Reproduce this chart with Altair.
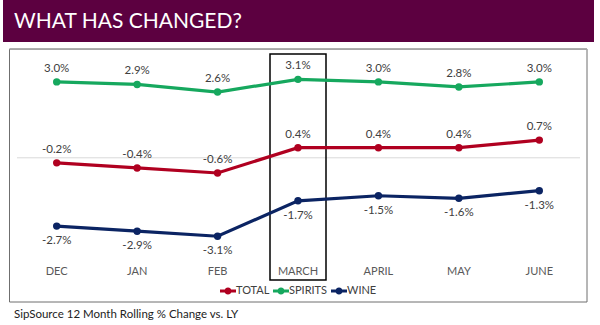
import altair as alt
import pandas as pd

months = ["DEC", "JAN", "FEB", "MARCH", "APRIL", "MAY", "JUNE"]
series = ["TOTAL", "SPIRITS", "WINE"]
colors = ["#B00020", "#16A85E", "#0B2463"]
total = [-0.2, -0.4, -0.6, 0.4, 0.4, 0.4, 0.7]
spirits = [3.0, 2.9, 2.6, 3.1, 3.0, 2.8, 3.0]
wine = [-2.7, -2.9, -3.1, -1.7, -1.5, -1.6, -1.3]

title_text = "WHAT HAS CHANGED?"
footer_text = "SipSource 12 Month Rolling % Change vs. LY"

rows = []
for name, vals in zip(series, [total, spirits, wine]):
    for m, v in zip(months, vals):
        rows.append({"month": m, "series": name, "value": v, "label": f"{v:.1f}%"})
df = pd.DataFrame(rows)
mdf = pd.DataFrame({"month": months})
one = pd.DataFrame({"a": [0]})
zdf = pd.DataFrame({"value": [0.0]})

FONT = "Lato"
xs = alt.X("month:N", sort=months, axis=None,
           scale=alt.Scale(type="point", domain=months, range=[56.7, 539.3], padding=0))
ys = alt.Y("value:Q", axis=None,
           scale=alt.Scale(domain=[-4, 4], range=[259, 56.6]))
color = alt.Color("series:N", sort=series,
                  scale=alt.Scale(domain=series, range=colors),
                  legend=alt.Legend(
                      title=None, orient="none", legendX=220, legendY=283,
                      direction="horizontal",
                      symbolType="M-1,-0.18L1,-0.18L1,0.18L-1,0.18Z M0.45,0 A0.45,0.45 0 1,1 -0.45,0 A0.45,0.45 0 1,1 0.45,0Z",
                      symbolSize=256, symbolStrokeWidth=0, symbolOpacity=1,
                      labelFont=FONT, labelFontSize=11, labelColor="#404040",
                      labelOffset=0, columnPadding=3,
                  ))

header = alt.Chart(one).mark_rect(color="#5C0040").encode(
    x=alt.value(3), x2=alt.value(594), y=alt.value(0), y2=alt.value(42))
header_txt = alt.Chart(one).mark_text(
    align="left", baseline="middle", font=FONT, fontSize=21, color="white"
).encode(x=alt.value(14), y=alt.value(22), text=alt.value(title_text))

box = alt.Chart(one).mark_rect(fill="white", stroke="#6f6f6f", strokeWidth=1).encode(
    x=alt.value(9.5), x2=alt.value(587), y=alt.value(49), y2=alt.value(302))
top_line = alt.Chart(one).mark_rect(color="#a6a6a6").encode(
    x=alt.value(9.5), x2=alt.value(587), y=alt.value(48.5), y2=alt.value(50))

zero = alt.Chart(zdf).mark_rule(color="#d9d9d9", strokeWidth=1).encode(
    x=alt.value(17), x2=alt.value(580), y=ys)

hl = alt.Chart(one).mark_rect(fillOpacity=0, stroke="black", strokeWidth=1.5).encode(
    x=alt.value(270), x2=alt.value(326), y=alt.value(54), y2=alt.value(280))

lines = alt.Chart(df).mark_line(strokeWidth=3.2).encode(
    x=xs, y=ys, color=color)
points = alt.Chart(df).mark_point(filled=True, size=55, opacity=1).encode(
    x=xs, y=ys, color=color)

lab_above = alt.Chart(df).transform_filter(alt.datum.series != "WINE").mark_text(
    baseline="middle", dy=-13, font=FONT, fontSize=11.5, color="#404040"
).encode(x=xs, y=ys, text="label:N")
lab_below = alt.Chart(df).transform_filter(alt.datum.series == "WINE").mark_text(
    baseline="middle", dy=15, font=FONT, fontSize=11.5, color="#404040"
).encode(x=xs, y=ys, text="label:N")

month_lab = alt.Chart(mdf).mark_text(
    baseline="middle", font=FONT, fontSize=11, color="#595959"
).encode(x=xs, y=alt.value(272), text="month:N")

footer = alt.Chart(one).mark_text(
    align="left", baseline="middle", font=FONT, fontSize=11.5, color="#222222"
).encode(x=alt.value(14), y=alt.value(315), text=alt.value(footer_text))

chart = alt.layer(
    header, header_txt, box, top_line, zero, hl, lines, points,
    lab_above, lab_below, month_lab, footer
).properties(
    width=600, height=325, padding=0,
    autosize=alt.AutoSizeParams(type="none"),
    background="white"
).configure_view(stroke=None)

chart.save("out.html", embed_options={"renderer": "svg", "actions": False})
